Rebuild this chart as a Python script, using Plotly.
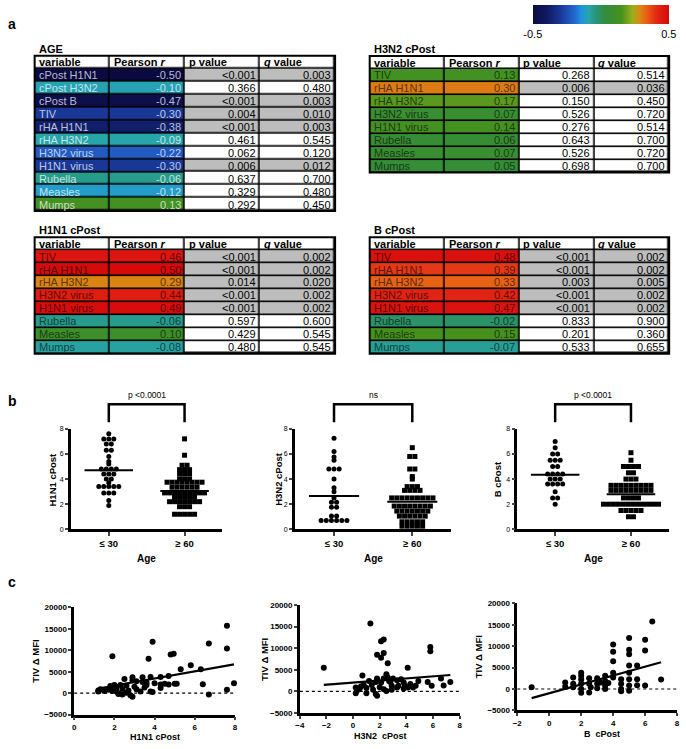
import plotly.graph_objects as go
from plotly.colors import sample_colorscale, unlabel_rgb

W, H = 686, 749
FONT = "Arial, 'Liberation Sans', Helvetica, sans-serif"

# ---------------- panel a : correlation tables ----------------
col_headers = ["variable", "Pearson <i>r</i>", "p value", "<i>q</i> value"]

age_vars = ["cPost H1N1", "cPost H3N2", "cPost B", "TIV", "rHA H1N1", "rHA H3N2",
            "H3N2 virus", "H1N1 virus", "Rubella", "Measles", "Mumps"]
age_r = [-0.50, -0.10, -0.47, -0.30, -0.38, -0.09, -0.22, -0.30, -0.06, -0.12, 0.13]
age_p = ["<0.001", "0.366", "<0.001", "0.004", "<0.001", "0.461", "0.062", "0.006", "0.637", "0.329", "0.292"]
age_q = ["0.003", "0.480", "0.003", "0.010", "0.003", "0.545", "0.120", "0.012", "0.700", "0.480", "0.450"]

cpost_vars = ["TIV", "rHA H1N1", "rHA H3N2", "H3N2 virus", "H1N1 virus", "Rubella", "Measles", "Mumps"]

h3_r = [0.13, 0.30, 0.17, 0.07, 0.14, 0.06, 0.07, 0.05]
h3_p = ["0.268", "0.006", "0.150", "0.526", "0.276", "0.643", "0.526", "0.698"]
h3_q = ["0.514", "0.036", "0.450", "0.720", "0.514", "0.700", "0.720", "0.700"]

h1_r = [0.46, 0.50, 0.29, 0.44, 0.49, -0.06, 0.10, -0.08]
h1_p = ["<0.001", "<0.001", "0.014", "<0.001", "<0.001", "0.597", "0.429", "0.480"]
h1_q = ["0.002", "0.002", "0.020", "0.002", "0.002", "0.600", "0.545", "0.545"]

bb_r = [0.48, 0.39, 0.33, 0.42, 0.47, -0.02, 0.15, -0.07]
bb_p = ["<0.001", "<0.001", "0.003", "<0.001", "<0.001", "0.833", "0.201", "0.533"]
bb_q = ["0.002", "0.002", "0.005", "0.002", "0.002", "0.900", "0.360", "0.655"]

r_min, r_max = -0.5, 0.5
pearson_stops = [(-0.50, "rgb(10,10,65)"), (-0.40, "rgb(15,25,95)"), (-0.30, "rgb(25,55,150)"),
                 (-0.20, "rgb(35,100,205)"), (-0.14, "rgb(30,150,220)"), (-0.09, "rgb(40,165,170)"),
                 (-0.04, "rgb(40,150,120)"), (0.03, "rgb(50,140,60)"), (0.15, "rgb(70,145,30)"),
                 (0.23, "rgb(150,175,30)"), (0.28, "rgb(215,140,20)"), (0.34, "rgb(235,90,20)"),
                 (0.42, "rgb(225,35,20)"), (0.50, "rgb(215,10,10)")]
sig_gray = "#bdbdbd"

# ---------------- panel b : cPost by age group ----------------
age_groups = ["≤ 30", "≥ 60"]
young_h1 = [7.6, 7.2, 7.2, 7.2, 6.8, 6.8, 6.3, 6.3, 5.8, 5.4, 5.2, 4.8, 4.8, 4.8, 4.8, 4.4, 4.4, 4.4,
            4.0, 4.0, 3.7, 3.4, 3.4, 3.4, 3.4, 3.4, 2.9, 2.9, 2.9, 2.3, 1.9]
old_h1 = [7.2, 5.9, 5.1, 5.1, 4.75, 4.75, 4.75, 4.4, 4.4, 4.4, 4.0, 4.0, 4.0,
          3.75, 3.75, 3.75, 3.75, 3.75, 3.75, 3.75, 3.75, 3.35, 3.35, 3.35, 3.35, 3.35, 3.35,
          2.9, 2.9, 2.9, 2.9, 2.9, 2.9, 2.9, 2.9, 2.9, 2.55, 2.55, 2.55, 2.55, 2.55,
          2.2, 2.2, 2.2, 2.2, 2.2, 2.2, 2.2, 1.8, 1.8, 1.8, 1.2, 1.2, 1.2, 1.2, 1.2]
young_h3 = [7.25, 6.2, 5.75, 5.5, 4.8, 4.8, 4.8, 4.0, 3.3, 3.0, 2.5, 2.15, 2.15, 1.75, 1.75,
            1.05, 1.05, 0.7, 0.7, 0.7, 0.7, 0.7, 0.7]
old_h3 = [6.5, 5.8, 5.8, 4.8, 4.8, 4.2, 4.0, 3.4, 3.4, 3.4, 3.1, 3.1, 3.1, 3.1,
          2.5, 2.5, 2.5, 2.5, 2.5, 2.5, 2.5, 2.5, 2.5, 1.85, 1.85, 1.85, 1.85, 1.85, 1.85, 1.85, 1.85,
          1.45, 1.45, 1.45, 1.45, 1.45, 1.45, 1.45, 1.05, 1.05, 1.05, 1.05, 1.05, 1.05,
          0.6, 0.6, 0.6, 0.6, 0.6, 0.25, 0.25, 0.25, 0.25, 0.25, -0.05]
young_b = [7.0, 6.5, 6.0, 6.0, 5.5, 5.5, 5.5, 5.0, 5.0, 4.4, 4.4, 4.4, 4.4, 4.0, 4.0, 4.0,
           3.6, 3.6, 3.6, 3.6, 3.0, 2.5, 2.5, 2.0]
old_b = [6.1, 5.5, 5.0, 5.0, 5.0, 5.0, 4.5, 4.5, 4.0, 4.0, 4.0,
         3.5, 3.5, 3.5, 3.5, 3.5, 3.5, 3.5, 3.5, 3.5, 3.1, 3.1, 3.1, 3.1, 3.1, 3.1, 3.1, 3.1, 3.1,
         2.5, 2.5, 2.5, 2.5, 2.0, 2.0, 2.0, 2.0, 2.0, 2.0, 2.0, 2.0, 2.0, 2.0, 2.0, 2.0,
         1.5, 1.5, 1.5, 1.5, 1.5, 1.0, 1.0]
medians_h1 = [4.7, 3.05]
medians_h3 = [2.65, 2.2]
medians_b = [4.35, 2.8]
p_labels = ["p <0.0001", "ns", "p <0.0001"]

# ---------------- panel c : TIV delta MFI vs cPost ----------------
c1_x = [7.6, 7.6, 6.7, 3.9, 1.9, 3.7, 4.8, 4.95, 5.3, 5.8, 6.3, 7.95, 5.0, 5.1, 6.4, 7.6, 6.7, 4.7, 4.3,
        3.8, 3.4, 2.9, 2.5, 2.9, 3.4, 3.1, 3.6, 4.0, 4.3, 4.7, 4.3, 3.8, 3.5, 3.0, 2.6, 2.3, 2.0, 1.8,
        1.3, 1.2, 1.2, 1.5, 1.7, 1.9, 2.1, 2.2, 2.4, 2.6, 2.8, 2.9, 2.1, 2.4, 2.7, 3.1, 3.3, 3.6, 3.9,
        4.5, 2.2, 1.8]
c1_y = [15700, 10400, 11600, 12000, 8600, 8000, 9000, 9200, 5600, 6500, 5600, 2300, 2200, 2200, 2100,
        800, -300, 4000, 3800, 3800, 3700, 3700, 3300, 3000, 2600, 2800, 2500, 2300, 2000, 2000, 1200,
        400, 1300, 1500, 1800, 1900, 1900, 1700, 900, 400, 600, 500, 800, 500, 400, 0, -300, 100, -500,
        -800, 1200, 1000, 600, 900, 400, 1900, 300, 2200, -200, 1000]
c2_x = [-2.2, 1.3, 2.1, 2.3, 1.8, 2.1, 2.3, 2.6, 4.1, 5.8, 5.8, 7.3, 6.6, 6.8, 5.6, 5.9, 4.9, 4.7, 4.1,
        4.3, 3.8, 3.4, 3.3, 3.0, 2.8, 2.6, 2.5, 2.3, 2.1, 1.8, 1.7, 1.4, 1.2, 0.8, 0.7, 0.5, 0.2, 0.2,
        0.3, 1.0, 1.0, 1.7, 1.8, 2.3, 2.5, 2.9, 3.3, 2.9, 3.8, 4.5, 3.9, 1.5, 0.6, 2.0, 3.6, 2.7]
c2_y = [5500, 15700, 11600, 12000, 8500, 7800, 8900, 6500, 5500, 10300, 9300, 2200, 3000, 1400, 2200,
        1300, 2400, 1300, 900, 1700, 2100, 1300, 2600, 3000, 2200, 3200, 4000, 3000, 2100, 3000, 2200,
        1500, 2400, 1500, 3700, 700, 900, -400, 200, 800, -400, -600, -1000, 500, 100, 400, 900, 1300,
        700, 900, 1300, 400, 1200, 1000, 2800, 2400]
c3_x = [-1.1, 6.45, 5.0, 6.0, 6.0, 4.0, 4.0, 4.0, 5.0, 5.0, 5.0, 5.5, 4.0, 4.0, 5.0, 5.0, 5.0, 5.0, 5.5,
        5.5, 6.0, 7.0, 4.5, 4.5, 4.5, 4.5, 3.5, 3.5, 3.5, 3.5, 3.7, 3.0, 3.0, 3.0, 3.2, 2.5, 2.5, 2.5,
        2.6, 2.0, 2.0, 2.0, 2.0, 2.0, 2.0, 1.5, 1.5, 1.5, 1.0, 1.0]
c3_y = [400, 15800, 11900, 11500, 9000, 10400, 8700, 6500, 9200, 8100, 5500, 5500, 3800, 2700, 3800,
        2300, 800, -400, 2300, 900, 800, 2200, 2300, 1200, 0, -500, 3100, 1900, 800, 0, 1400, 2500,
        1200, 200, 1500, 2500, 1200, -800, 400, 3800, 3100, 2200, 1200, 0, -900, 2700, 1200, 400,
        1500, 500]
fit_slope = [830, 242, 1033]
fit_intercept = [100, 2040, -980]
c_xlabels = ["H1N1 cPost", "H3N2  cPost", "B  cPost"]

# ======================================================================
def px(v):
    return v / W


def py(v):
    return 1 - v / H


def ak(i, a):
    return f"{a}axis" if i == 1 else f"{a}axis{i}"


def ar(i, a):
    return a if i == 1 else f"{a}{i}"


pearson_cs = [[(v - r_min) / (r_max - r_min), c] for v, c in pearson_stops]


def cell_color(r):
    return sample_colorscale(pearson_cs, [(r - r_min) / (r_max - r_min)])[0]


def shade(c, f):
    r, g, b = unlabel_rgb(c)
    return f"rgb({int(r * f)},{int(g * f)},{int(b * f)})"


def tint(c, f):
    r, g, b = unlabel_rgb(c)
    return f"rgb({int(r + (255 - r) * f)},{int(g + (255 - g) * f)},{int(b + (255 - b) * f)})"


fig = go.Figure()
layout_axes = {}
shapes = []
annotations = []


def ann(text, x, y, size=11, xref="paper", yref="paper", xanchor="center", yanchor="middle",
        color="black", textangle=0, xshift=0):
    annotations.append(dict(text=text, x=x, y=y, xref=xref, yref=yref, xanchor=xanchor,
                            yanchor=yanchor, showarrow=False, textangle=textangle, xshift=xshift,
                            font=dict(family=FONT, size=size, color=color)))


ROW_H = 13.1


def add_table(i, title, vars_, rs, ps, qs, left, right, top, light):
    n = len(vars_) + 1
    bottom = top + n * ROW_H
    xa, ya = ar(i, "x"), ar(i, "y")
    layout_axes[ak(i, "x")] = dict(domain=[px(left), px(right)], range=[-0.5, 3.5], visible=False,
                                   anchor=ya, fixedrange=True)
    layout_axes[ak(i, "y")] = dict(domain=[py(bottom), py(top)], range=[n - 0.5, -0.5], visible=False,
                                   anchor=xa, fixedrange=True)
    rows = list(range(1, n))
    hm_kw = dict(xaxis=xa, yaxis=ya, xgap=1.6, ygap=1.6, hoverinfo="skip")
    cb = None
    if i == 7:
        cb = dict(orientation="h", x=px(534), xanchor="left", y=py(1.5), yanchor="top",
                  len=138 / W, lenmode="fraction", thickness=19, thicknessmode="pixels",
                  outlinewidth=0, tickvals=[r_min, r_max], ticktext=[str(r_min), str(r_max)],
                  ticks="", tickfont=dict(family=FONT, size=11, color="black"), xpad=0, ypad=0)
    fig.add_trace(go.Heatmap(x=[0, 1], y=rows, z=[[r, r] for r in rs], colorscale=pearson_cs,
                             zmin=r_min, zmax=r_max, showscale=(i == 7), colorbar=cb, **hm_kw))
    sig = [1 if float(q) < 0.05 else 0 for q in qs]
    z2 = [[0, 0, 0, 0]] + [[None, None, s, s] for s in sig]
    fig.add_trace(go.Heatmap(x=[0, 1, 2, 3], y=list(range(n)), z=z2,
                             colorscale=[[0, "white"], [1, sig_gray]], zmin=0, zmax=1,
                             showscale=False, **hm_kw))
    shapes.append(dict(type="rect", xref=f"{xa} domain", yref=f"{ya} domain", x0=0, x1=1, y0=0, y1=1,
                       fillcolor="black", line=dict(width=0), layer="below"))
    shapes.append(dict(type="rect", xref=f"{xa} domain", yref=f"{ya} domain", x0=0, x1=1, y0=0, y1=1,
                       fillcolor="rgba(0,0,0,0)", line=dict(width=2, color="black"), layer="above"))
    ann(f"<b>{title}</b>", px(left + 2), py(top - 7), size=11, xanchor="left")
    for c, h in enumerate(col_headers):
        ann(f"<b>{h}</b>", c - 0.5, 0, size=11, xref=xa, yref=ya, xanchor="left", xshift=2)
    for k, (v, r, p, q) in enumerate(zip(vars_, rs, ps, qs)):
        row = k + 1
        base = cell_color(r)
        tc = tint(base, 0.72) if light else shade(base, 0.42)
        ann(v, -0.5, row, size=11, xref=xa, yref=ya, xanchor="left", xshift=2, color=tc)
        ann(f"{r:.2f}", 1.5, row, size=11, xref=xa, yref=ya, xanchor="right", xshift=-2, color=tc)
        ann(p.replace("<", "&lt;"), 2.5, row, size=11, xref=xa, yref=ya, xanchor="right", xshift=-2)
        ann(q, 3.5, row, size=11, xref=xa, yref=ya, xanchor="right", xshift=-2)


add_table(7, "AGE", age_vars, age_r, age_p, age_q, 30, 334, 52.3, True)
add_table(8, "H3N2 cPost", cpost_vars, h3_r, h3_p, h3_q, 369, 672, 52.7, False)
add_table(9, "H1N1 cPost", cpost_vars, h1_r, h1_p, h1_q, 30, 334, 236, False)
add_table(10, "B cPost", cpost_vars, bb_r, bb_p, bb_q, 369, 672, 236, False)


# ---------------- panel b ----------------
def swarm(vals, center, step):
    groups = {}
    for idx, v in enumerate(vals):
        groups.setdefault(v, []).append(idx)
    xs = [0.0] * len(vals)
    for v, idxs in groups.items():
        m = len(idxs)
        for k, idx in enumerate(idxs):
            xs[idx] = center + (k - (m - 1) / 2) * step
    return xs


b_specs = [
    dict(i=1, xd=(66.7, 220), young=young_h1, old=old_h1, med=medians_h1, yt="H1N1 cPost", ytx=48),
    dict(i=2, xd=(293.3, 451.7), young=young_h3, old=old_h3, med=medians_h3, yt="H3N2 cPost", ytx=276),
    dict(i=3, xd=(518.3, 671.7), young=young_b, old=old_b, med=medians_b, yt="B cPost", ytx=498),
]
B_TOP, B_BOT = 430, 531.7
for s, ptxt in zip(b_specs, p_labels):
    i = s["i"]
    xa, ya = ar(i, "x"), ar(i, "y")
    layout_axes[ak(i, "x")] = dict(domain=[px(s["xd"][0]), px(s["xd"][1])], range=[-0.5, 1.5],
                                   tickvals=[0, 1], ticktext=age_groups, ticks="outside", ticklen=4,
                                   tickwidth=2, showline=True, linewidth=2.5, linecolor="black",
                                   showgrid=False, zeroline=False, anchor=ya,
                                   tickfont=dict(family=FONT, size=9.5, color="black", weight="bold"))
    layout_axes[ak(i, "y")] = dict(domain=[py(B_BOT), py(B_TOP)], range=[0, 8], tickvals=[0, 2, 4, 6, 8],
                                   ticks="outside", ticklen=3, tickwidth=1.5, showline=True,
                                   linewidth=2.5, linecolor="black", showgrid=False, zeroline=False,
                                   anchor=xa, tickfont=dict(family=FONT, size=7, color="black"))
    fig.add_trace(go.Scatter(x=swarm(s["young"], 0, 0.066), y=s["young"], mode="markers",
                             marker=dict(symbol="circle", size=5, color="black"),
                             xaxis=xa, yaxis=ya, cliponaxis=False, hoverinfo="skip"))
    fig.add_trace(go.Scatter(x=swarm(s["old"], 1, 0.066), y=s["old"], mode="markers",
                             marker=dict(symbol="square", size=5, color="black"),
                             xaxis=xa, yaxis=ya, cliponaxis=False, hoverinfo="skip"))
    for g, m in enumerate(s["med"]):
        fig.add_trace(go.Scatter(x=[g - 0.32, g + 0.32], y=[m, m], mode="lines",
                                 line=dict(color="black", width=2), xaxis=xa, yaxis=ya,
                                 hoverinfo="skip"))
    shapes.append(dict(type="path", xref=xa, yref="paper",
                       path=f"M 0,{py(423.3)} L 0,{py(405)} L 1,{py(405)} L 1,{py(423.3)}",
                       line=dict(color="black", width=2.5)))
    ann(ptxt, 0.5, py(396), size=8.5, xref=xa)
    ann("<b>Age</b>", 0.5, py(561), size=10, xref=xa)
    ann(f"<b>{s['yt']}</b>", px(s["ytx"]), py((B_TOP + B_BOT) / 2), size=9.5, textangle=-90)

# ---------------- panel c ----------------
c_specs = [
    dict(i=4, xd=(70, 232.7), yd=(610.7, 719.3), xr=[0, 8], x=c1_x, y=c1_y, ytx=30, xtx=151.7, xty=742),
    dict(i=5, xd=(298.3, 460), yd=(608.3, 717.7), xr=[-4, 8], x=c2_x, y=c2_y, ytx=262, xtx=380, xty=741),
    dict(i=6, xd=(518.3, 680), yd=(606.7, 715), xr=[-2, 8], x=c3_x, y=c3_y, ytx=480, xtx=604, xty=739),
]
for k, s in enumerate(c_specs):
    i = s["i"]
    xa, ya = ar(i, "x"), ar(i, "y")
    tickfont = dict(family=FONT, size=8, color="black", weight="bold")
    layout_axes[ak(i, "x")] = dict(domain=[px(s["xd"][0]), px(s["xd"][1])], range=s["xr"], dtick=2,
                                   ticks="outside", ticklen=3, tickwidth=2, showline=True,
                                   linewidth=2.5, linecolor="black", showgrid=False, zeroline=False,
                                   anchor=ya, tickfont=tickfont)
    layout_axes[ak(i, "y")] = dict(domain=[py(s["yd"][1]), py(s["yd"][0])], range=[-5000, 20000],
                                   dtick=5000, tickformat="d", ticks="outside", ticklen=3, tickwidth=2,
                                   showline=True, linewidth=2.5, linecolor="black", showgrid=False,
                                   zeroline=False, anchor=xa, tickfont=tickfont)
    shapes.append(dict(type="line", xref=f"{xa} domain", yref=ya, x0=0, x1=1, y0=0, y1=0,
                       line=dict(color="black", width=1.2, dash="dot")))
    fig.add_trace(go.Scatter(x=s["x"], y=s["y"], mode="markers",
                             marker=dict(symbol="circle", size=6, color="black"),
                             xaxis=xa, yaxis=ya, cliponaxis=False, hoverinfo="skip"))
    xlo, xhi = min(s["x"]), max(s["x"])
    fig.add_trace(go.Scatter(x=[xlo, xhi],
                             y=[fit_slope[k] * xlo + fit_intercept[k], fit_slope[k] * xhi + fit_intercept[k]],
                             mode="lines", line=dict(color="black", width=2.2),
                             xaxis=xa, yaxis=ya, hoverinfo="skip"))
    ann("<b>TIV Δ MFI</b>", px(s["ytx"]), py((s["yd"][0] + s["yd"][1]) / 2), size=9.5, textangle=-90)
    ann(f"<b>{c_xlabels[k]}</b>", px(s["xtx"]), py(s["xty"]), size=9)

# panel letters
ann("<b>a</b>", px(7.5), py(20), size=14)
ann("<b>b</b>", px(7.5), py(402), size=14)
ann("<b>c</b>", px(7), py(585), size=14)

fig.update_layout(width=W, height=H, margin=dict(l=0, r=0, t=0, b=0), paper_bgcolor="white",
                  plot_bgcolor="white", showlegend=False, font=dict(family=FONT, color="black"),
                  shapes=shapes, annotations=annotations, **layout_axes)
fig.write_html("out.html", config={"displayModeBar": False},
               post_script="document.body.style.margin='0px'; document.body.style.overflow='hidden';")
